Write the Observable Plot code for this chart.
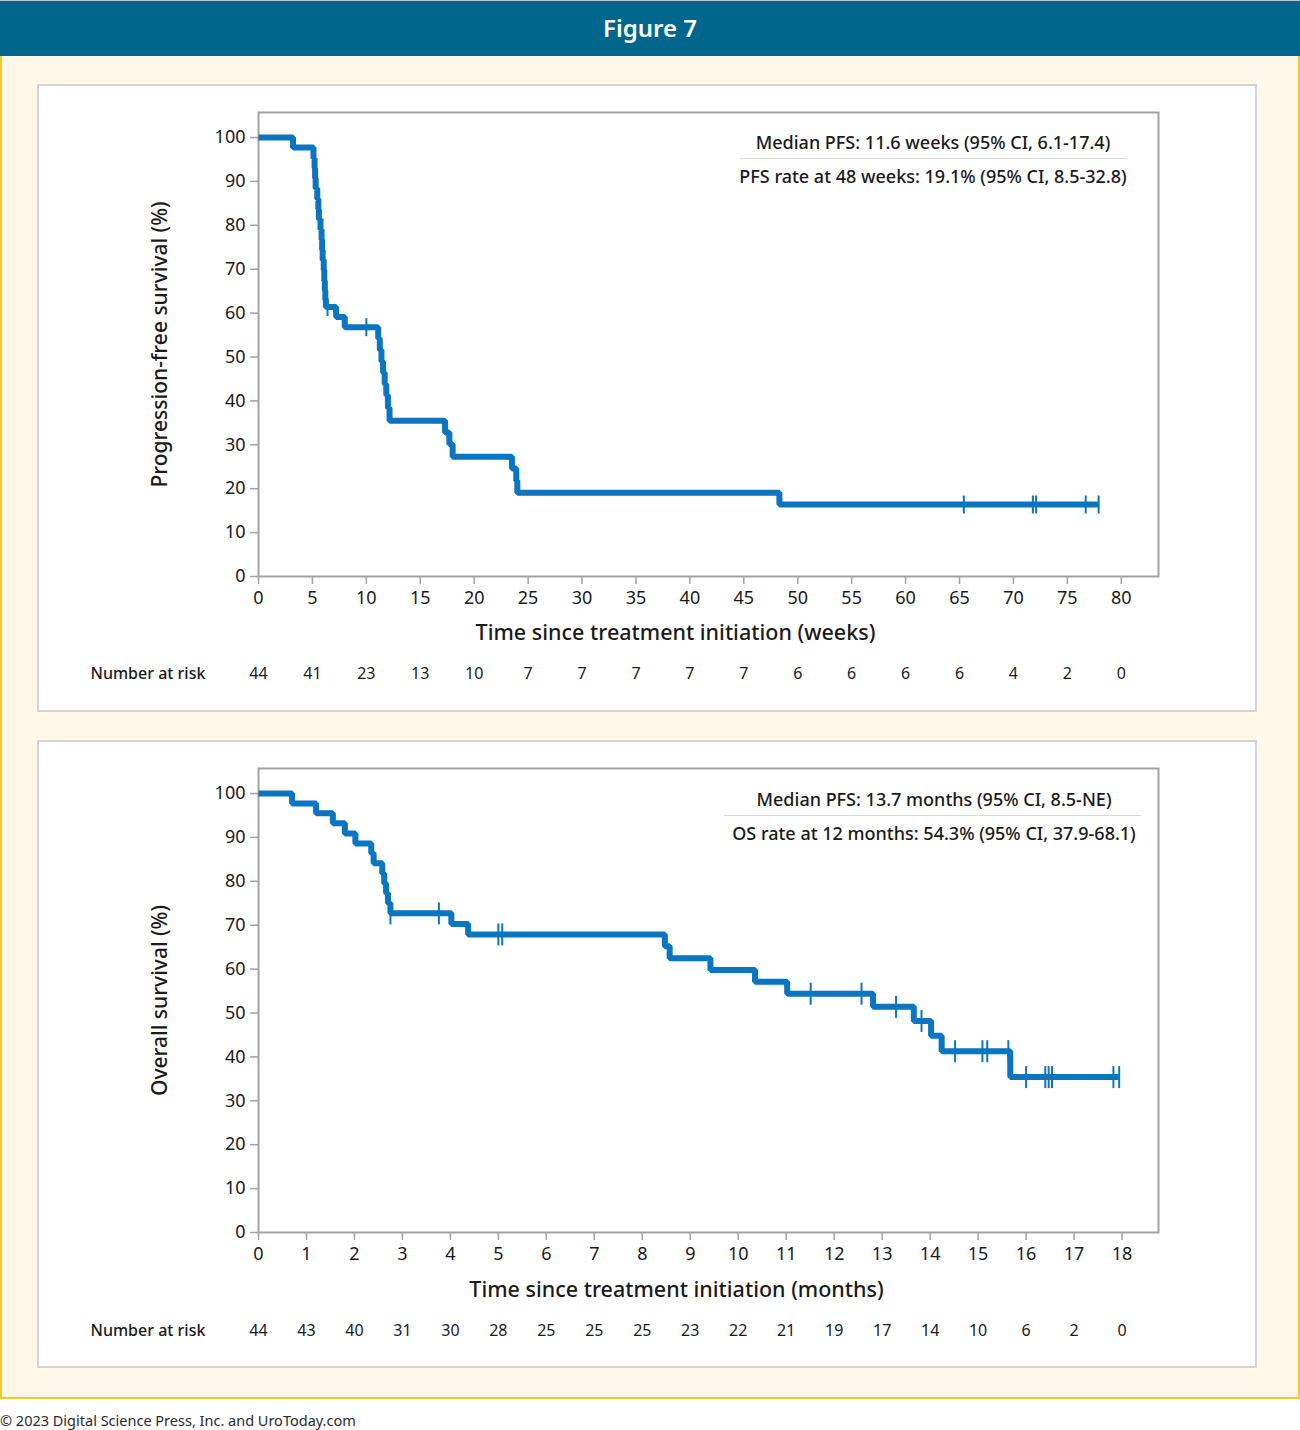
<!DOCTYPE html>
<html>
<head>
<meta charset="utf-8">
<script src="https://cdn.jsdelivr.net/npm/d3@7"></script>
<script src="https://cdn.jsdelivr.net/npm/@observablehq/plot@0.6"></script>
<style>
  html, body { margin: 0; padding: 0; }
  body {
    width: 1300px; height: 1430px; position: relative; overflow: hidden;
    background: #ffffff; color: #1a1a1a;
    font-family: "Noto Sans", "Open Sans", sans-serif;
  }
  #header {
    position: absolute; left: 0; top: 0; width: 1300px; height: 56px;
    background: #00668c; color: #ffffff; box-sizing: border-box;
    border-top: 1px solid #b9c9d0;
    font-size: 24px; font-weight: 600; text-align: center; line-height: 54px;
  }
  #backdrop {
    position: absolute; left: 0; top: 56px; width: 1300px; height: 1343px;
    background: #fff8e9; box-sizing: border-box;
    border: 2px solid #f6c829; border-top: none;
  }
  .panel {
    position: absolute; left: 37px; width: 1220px; height: 628px;
    background: #ffffff; box-shadow: inset 0 0 0 2px #d4d4d4;
  }
  .panel svg { position: absolute; left: 0; top: 0; }
  .note {
    position: absolute; width: 560px; text-align: center;
    font-size: 18px; font-weight: 500; line-height: 24px; color: #1a1a1a;
    white-space: nowrap;
  }
  .note-rule { position: absolute; height: 1px; background: #d9d9d9; }
  #footer {
    position: absolute; left: 0; top: 1410px; font-size: 14.5px; color: #2b2b2b;
    white-space: nowrap;
  }
</style>
</head>
<body>
<div id="header">Figure 7</div>
<div id="backdrop"></div>
<div class="panel" id="pfs" style="top:84px"></div>
<div class="panel" id="os" style="top:740px"></div>
<div id="footer">© 2023 Digital Science Press, Inc. and UroToday.com</div>

<script>
// ---- Progression-free survival (weeks) ----
const pfsWeeks = [0, 3.2, 5.1, 5.2, 5.25, 5.3, 5.45, 5.55, 5.6, 5.75, 5.85, 5.9, 5.95, 6.05, 6.1, 6.15, 6.2, 6.25,
  7.2, 8.0, 11.1, 11.25, 11.4, 11.55, 11.7, 11.85, 12.0, 12.15, 17.3, 17.7, 18.0, 23.5, 23.9, 24.0, 48.3, 77.9];
const pfsPercent = [100, 97.7, 95.3, 93.0, 90.7, 88.4, 86.0, 83.7, 81.4, 79.1, 76.7, 74.4, 72.1, 69.8, 67.4, 65.1, 63.0, 61.4,
  59.1, 56.8, 54.2, 51.6, 49.0, 46.4, 43.8, 41.3, 38.4, 35.5, 32.8, 30.1, 27.3, 24.6, 21.8, 19.1, 16.4, 16.4];
const pfsCensoredWeeks = [6.4, 10.0, 65.4, 71.8, 72.1, 76.7, 77.9];
const pfsTickWeeks = [0, 5, 10, 15, 20, 25, 30, 35, 40, 45, 50, 55, 60, 65, 70, 75, 80];
const pfsAtRisk = [44, 41, 23, 13, 10, 7, 7, 7, 7, 7, 6, 6, 6, 6, 4, 2, 0];

// ---- Overall survival (months) ----
const osMonths = [0, 0.7, 1.2, 1.55, 1.8, 2.02, 2.35, 2.4, 2.58, 2.62, 2.66, 2.7, 2.75, 4.02, 4.37,
  8.47, 8.57, 9.42, 10.35, 11.02, 12.81, 13.66, 14.02, 14.24, 15.67, 17.94];
const osPercent = [100, 97.7, 95.5, 93.2, 90.9, 88.6, 86.4, 84.1, 81.8, 79.5, 77.3, 75.0, 72.7, 70.3, 67.9,
  65.2, 62.5, 59.8, 57.1, 54.4, 51.4, 48.2, 44.8, 41.3, 35.4, 35.4];
const osCensoredMonths = [2.75, 3.76, 5.0, 5.08, 11.51, 12.57, 13.29, 13.82, 14.52, 15.09, 15.19, 15.63,
  16.0, 16.4, 16.47, 16.54, 17.82, 17.94];
const osTickMonths = [0, 1, 2, 3, 4, 5, 6, 7, 8, 9, 10, 11, 12, 13, 14, 15, 16, 17, 18];
const osAtRisk = [44, 43, 40, 31, 30, 28, 25, 25, 25, 23, 22, 21, 19, 17, 14, 10, 6, 2, 0];

const percentTicks = [0, 10, 20, 30, 40, 50, 60, 70, 80, 90, 100];

const BLUE = "#0b75bf";
const GREY = "#a3a3a3";
const FONT = "'Noto Sans', 'Open Sans', sans-serif";

// Vertical bar used as the censoring mark
const censorBar = {
  draw(context, size) {
    const r = Math.sqrt(size / Math.PI);
    context.moveTo(0, -r);
    context.lineTo(0, r);
  }
};

// Survival value of a step function at time t
function survivalAt(times, values, t) {
  let v = values[0];
  for (let i = 0; i < times.length; i++) if (times[i] <= t) v = values[i];
  return v;
}

function kmPanel({times, values, censored, ticks, atRisk, xMax, xLabel, yLabel, tickR, riskDy, xLabelDx, xLabelDy}) {
  const steps = times.map((t, i) => ({t, v: values[i]}));
  const marks = censored.map(t => ({t, v: survivalAt(times, values, t)}));
  const risk = ticks.map((t, i) => ({t, n: atRisk[i]}));

  const svg = Plot.plot({
    width: 1220,
    height: 628,
    marginLeft: 221,
    marginRight: 99,
    marginTop: 28,
    marginBottom: 136,
    style: {fontFamily: FONT, fontSize: "18px", color: "#1a1a1a", background: "transparent", overflow: "visible"},
    x: {domain: [0, xMax], ticks, tickSize: 8, tickPadding: 7, label: null},
    y: {domain: [0, 105.7], ticks: percentTicks, tickSize: 8, tickPadding: 5, label: null},
    marks: [
      Plot.frame({stroke: GREY, strokeWidth: 2}),
      Plot.line(steps, {x: "t", y: "v", curve: "step-after", stroke: BLUE, strokeWidth: 6,
        strokeLinejoin: "miter", strokeLinecap: "butt"}),
      Plot.dot(marks, {x: "t", y: "v", symbol: censorBar, r: tickR, stroke: BLUE, strokeWidth: 2, fill: "none"}),
      Plot.text(risk, {x: "t", text: "n", frameAnchor: "bottom", lineAnchor: "middle", dy: riskDy,
        fontSize: 16, fill: "#1a1a1a"}),
      Plot.text(["Number at risk"], {frameAnchor: "bottom-left", textAnchor: "start", lineAnchor: "middle",
        dx: -168, dy: riskDy, fontSize: 16, fontWeight: 500, fill: "#1a1a1a"}),
      Plot.text([xLabel], {frameAnchor: "bottom", textAnchor: "middle", lineAnchor: "middle", dx: xLabelDx, dy: xLabelDy,
        fontSize: 21.5, fontWeight: 500, fill: "#1a1a1a"}),
      Plot.text([yLabel], {frameAnchor: "left", textAnchor: "middle", lineAnchor: "middle", rotate: -90, dx: -98,
        fontSize: 21, fontWeight: 500, fill: "#1a1a1a"})
    ]
  });

  // grey tick lines, black tick labels
  const s = d3.select(svg);
  s.selectAll('[aria-label="x-axis tick"], [aria-label="y-axis tick"]').attr("stroke", GREY).attr("stroke-width", 1.5);
  s.selectAll('[aria-label="x-axis"] line, [aria-label="y-axis"] line').attr("stroke", GREY).attr("stroke-width", 1.5);
  s.selectAll('[aria-label="x-axis tick label"], [aria-label="y-axis tick label"]').attr("fill", "#1a1a1a");
  return svg;
}

function addNote(panel, lines, centerX, rows, rule) {
  lines.forEach((txt, i) => {
    const d = document.createElement("div");
    d.className = "note";
    d.textContent = txt;
    d.style.left = (centerX - 280) + "px";
    d.style.top = (rows[i] - 12) + "px";
    panel.appendChild(d);
  });
  const r = document.createElement("div");
  r.className = "note-rule";
  r.style.left = rule[0] + "px";
  r.style.width = (rule[1] - rule[0]) + "px";
  r.style.top = rule[2] + "px";
  panel.appendChild(r);
}

const pfsPanel = document.getElementById("pfs");
pfsPanel.appendChild(kmPanel({
  times: pfsWeeks, values: pfsPercent, censored: pfsCensoredWeeks,
  ticks: pfsTickWeeks, atRisk: pfsAtRisk, xMax: 83.45,
  xLabel: "Time since treatment initiation (weeks)",
  yLabel: "Progression-free survival (%)",
  tickR: 9, riskDy: 97, xLabelDx: -33, xLabelDy: 57
}));
addNote(pfsPanel,
  ["Median PFS: 11.6 weeks (95% CI, 6.1-17.4)", "PFS rate at 48 weeks: 19.1% (95% CI, 8.5-32.8)"],
  896, [58, 92], [703, 1090, 74]);

const osPanel = document.getElementById("os");
osPanel.appendChild(kmPanel({
  times: osMonths, values: osPercent, censored: osCensoredMonths,
  ticks: osTickMonths, atRisk: osAtRisk, xMax: 18.76,
  xLabel: "Time since treatment initiation (months)",
  yLabel: "Overall survival (%)",
  tickR: 11, riskDy: 98, xLabelDx: -32, xLabelDy: 58
}));
addNote(osPanel,
  ["Median PFS: 13.7 months (95% CI, 8.5-NE)", "OS rate at 12 months: 54.3% (95% CI, 37.9-68.1)"],
  897, [59, 93], [687, 1104, 75]);
</script>
</body>
</html>
